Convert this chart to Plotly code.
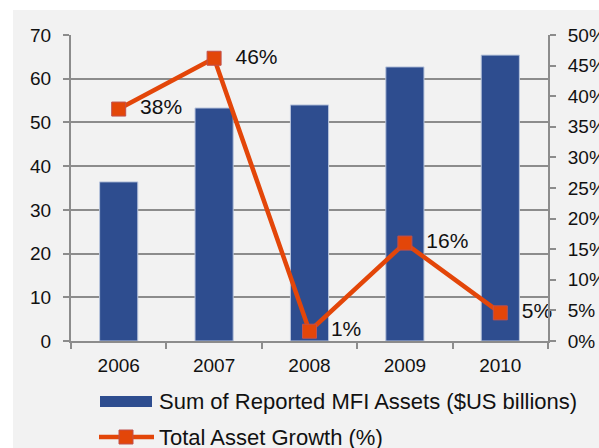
import plotly.graph_objects as go

years = ["2006", "2007", "2008", "2009", "2010"]
assets = [36.4, 53.3, 54.0, 62.7, 65.4]
growth = [38, 46, 1, 16, 5]
growth_pos = [37.9, 46.2, 1.6, 16.0, 4.6]

bar_name = "Sum of Reported MFI Assets ($US billions)"
line_name = "Total Asset Growth (%)"

BAR_COLOR = "#2e4d8f"
LINE_COLOR = "#e34609"
AXIS_GRAY = "#8c8c8c"

fig = go.Figure()

fig.add_trace(go.Bar(
    x=years, y=assets, name=bar_name,
    marker=dict(color=BAR_COLOR, line=dict(color="#b8c4dc", width=1)),
    yaxis="y",
))

fig.add_trace(go.Scatter(
    x=years, y=growth_pos, name=line_name, yaxis="y2",
    mode="lines+markers+text",
    line=dict(color=LINE_COLOR, width=4.5),
    marker=dict(symbol="square", size=14, color=LINE_COLOR,
                line=dict(color="#c0504d", width=1)),
    text=["\u00a0\u00a0" + f"{g}%" for g in growth],
    textposition="middle right",
    textfont=dict(size=21, color="#111111"),
    cliponaxis=False,
))

# positions for the background panel and the hand-made legend,
# given in the reference's pixel grid
def px_x(px):
    return (px - 71) / 477

def px_y(py):
    return (341 - py) / 306

shapes = [
    dict(type="rect", xref="paper", yref="paper",
         x0=px_x(13), x1=px_x(600), y0=px_y(449), y1=px_y(10),
         fillcolor="#f2f2f2", line=dict(width=0), layer="below"),
    dict(type="rect", xref="paper", yref="paper",
         x0=px_x(100), x1=px_x(152), y0=px_y(407), y1=px_y(396),
         fillcolor=BAR_COLOR, line=dict(width=0)),
    dict(type="line", xref="paper", yref="paper",
         x0=px_x(99), x1=px_x(154), y0=px_y(437), y1=px_y(437),
         line=dict(color=LINE_COLOR, width=4.5)),
    dict(type="rect", xref="paper", yref="paper",
         x0=px_x(119), x1=px_x(133), y0=px_y(444), y1=px_y(430),
         fillcolor=LINE_COLOR, line=dict(color="#c0504d", width=1)),
]

annotations = [
    dict(text=bar_name, xref="paper", yref="paper", x=px_x(157), y=px_y(401),
         xanchor="left", yanchor="middle", showarrow=False, font=dict(size=22)),
    dict(text=line_name, xref="paper", yref="paper", x=px_x(157), y=px_y(437),
         xanchor="left", yanchor="middle", showarrow=False, font=dict(size=22)),
]

fig.update_layout(
    width=599, height=448,
    margin=dict(l=71, r=51, t=35, b=107, autoexpand=False),
    paper_bgcolor="white",
    plot_bgcolor="#f2f2f2",
    font=dict(family="Liberation Sans, Arial, sans-serif", size=18, color="#111111"),
    bargap=0.6,
    showlegend=False,
    shapes=shapes,
    annotations=annotations,
    xaxis=dict(type="category", showline=True, linecolor=AXIS_GRAY, linewidth=2,
               ticks="outside", tickson="boundaries", ticklen=6, tickcolor=AXIS_GRAY,
               tickwidth=2, showgrid=False, tickfont=dict(size=19),
               ticklabelstandoff=6),
    yaxis=dict(range=[0, 70], dtick=10, showgrid=True, gridcolor=AXIS_GRAY,
               gridwidth=2, showline=True, linecolor=AXIS_GRAY, linewidth=2,
               ticks="outside", ticklen=6, tickcolor=AXIS_GRAY, tickwidth=2,
               zeroline=False, tickfont=dict(size=19), ticklabelstandoff=8),
    yaxis2=dict(range=[0, 50], dtick=5, overlaying="y", side="right",
                showgrid=False, showline=True, linecolor=AXIS_GRAY, linewidth=2,
                ticks="outside", ticklen=6, tickcolor=AXIS_GRAY, tickwidth=2,
                ticksuffix="%", zeroline=False, tickfont=dict(size=19),
                ticklabelstandoff=8),
)

fig.write_html(
    "out.html",
    config={"displayModeBar": False},
    post_script="document.body.style.margin='0';document.body.style.overflow='hidden';",
)
